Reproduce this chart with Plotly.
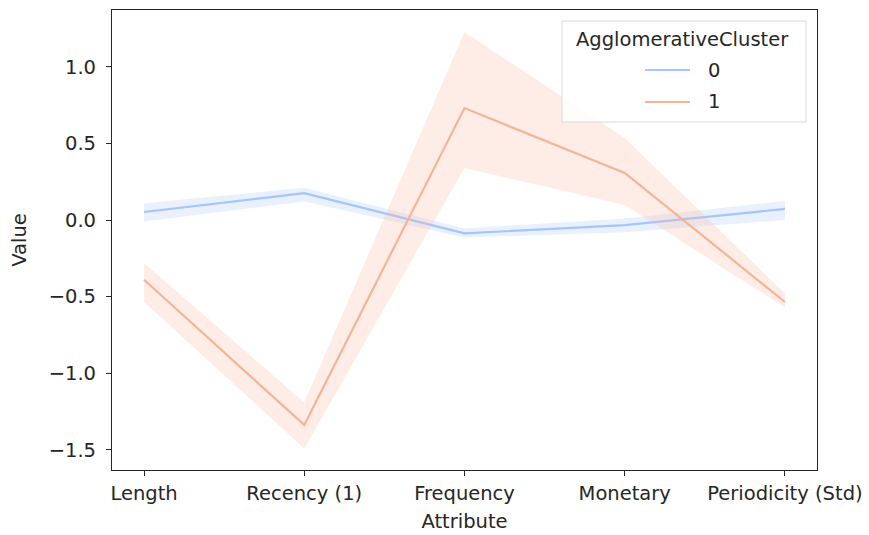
import plotly.graph_objects as go

categories = ["Length", "Recency (1)", "Frequency", "Monetary", "Periodicity (Std)"]
cluster0_mean = [0.052, 0.175, -0.087, -0.033, 0.072]
cluster0_low = [-0.01, 0.12, -0.115, -0.08, 0.0]
cluster0_high = [0.11, 0.21, -0.055, 0.01, 0.124]
cluster1_mean = [-0.39, -1.337, 0.73, 0.307, -0.535]
cluster1_low = [-0.535, -1.49, 0.34, 0.098, -0.57]
cluster1_high = [-0.28, -1.19, 1.226, 0.535, -0.48]

c0 = "#a6c4fd"
c1 = "#f5b496"
band0 = "rgba(170,199,253,0.25)"
band1 = "rgba(247,184,156,0.25)"

fig = go.Figure()
for mean, lo, hi, col, band, name in [
    (cluster0_mean, cluster0_low, cluster0_high, c0, band0, "0"),
    (cluster1_mean, cluster1_low, cluster1_high, c1, band1, "1"),
]:
    fig.add_trace(go.Scatter(x=categories, y=hi, mode="lines", line=dict(width=0),
                             showlegend=False, hoverinfo="skip"))
    fig.add_trace(go.Scatter(x=categories, y=lo, mode="lines", line=dict(width=0),
                             fill="tonexty", fillcolor=band, showlegend=False, hoverinfo="skip"))
    fig.add_trace(go.Scatter(x=categories, y=mean, mode="lines", line=dict(color=col, width=2.2),
                             name=name, showlegend=False))

font = dict(family="DejaVu Sans", size=19.5, color="#262626")

fig.update_layout(
    width=869, height=535,
    margin=dict(l=112, r=52, t=10, b=65),
    plot_bgcolor="white", paper_bgcolor="white",
    font=font,
    showlegend=False,
)
fig.update_xaxes(
    type="category", range=[-0.2, 4.2], automargin=False,
    showline=True, mirror=True, linecolor="#262626", linewidth=1.2,
    ticks="outside", ticklen=5, tickcolor="#262626", tickwidth=1.2,
    showgrid=False, zeroline=False,
    title=dict(text="Attribute", font=font, standoff=10),
)
fig.update_yaxes(
    range=[-1.631, 1.370], automargin=False,
    tickvals=[-1.5, -1.0, -0.5, 0.0, 0.5, 1.0],
    ticktext=["\u22121.5", "\u22121.0", "\u22120.5", "0.0", "0.5", "1.0"],
    showline=True, mirror=True, linecolor="#262626", linewidth=1.2,
    ticks="outside", ticklen=5, tickcolor="#262626", tickwidth=1.2,
    ticklabelstandoff=6,
    showgrid=False, zeroline=False,
    title=dict(text="Value", font=font, standoff=16),
)

# Manual legend (seaborn-style, centered items)
lx0, lx1 = (562 - 112) / 705, (806 - 112) / 705
ly_top, ly_bot = 1 - (21 - 10) / 460, 1 - (122 - 10) / 460
fig.add_shape(type="rect", xref="paper", yref="paper", x0=lx0, x1=lx1, y0=ly_bot, y1=ly_top,
              line=dict(color="#d9d9d9", width=1), fillcolor="rgba(255,255,255,0.8)", layer="above")
fig.add_annotation(xref="paper", yref="paper", x=(682 - 112) / 705, y=1 - (40 - 10) / 460,
                   text="AgglomerativeCluster", showarrow=False, font=font, xanchor="center", yanchor="middle")
for i, (name, col) in enumerate([("0", c0), ("1", c1)]):
    yy = 1 - ((70 + 32 * i) - 10) / 460
    fig.add_shape(type="line", xref="paper", yref="paper", x0=(645 - 112) / 705, x1=(690 - 112) / 705,
                  y0=yy, y1=yy, line=dict(color=col, width=2.2), layer="above")
    fig.add_annotation(xref="paper", yref="paper", x=(706 - 112) / 705, y=yy, text=name,
                       showarrow=False, font=font, xanchor="left", yanchor="middle")

fig.write_html("out.html")
